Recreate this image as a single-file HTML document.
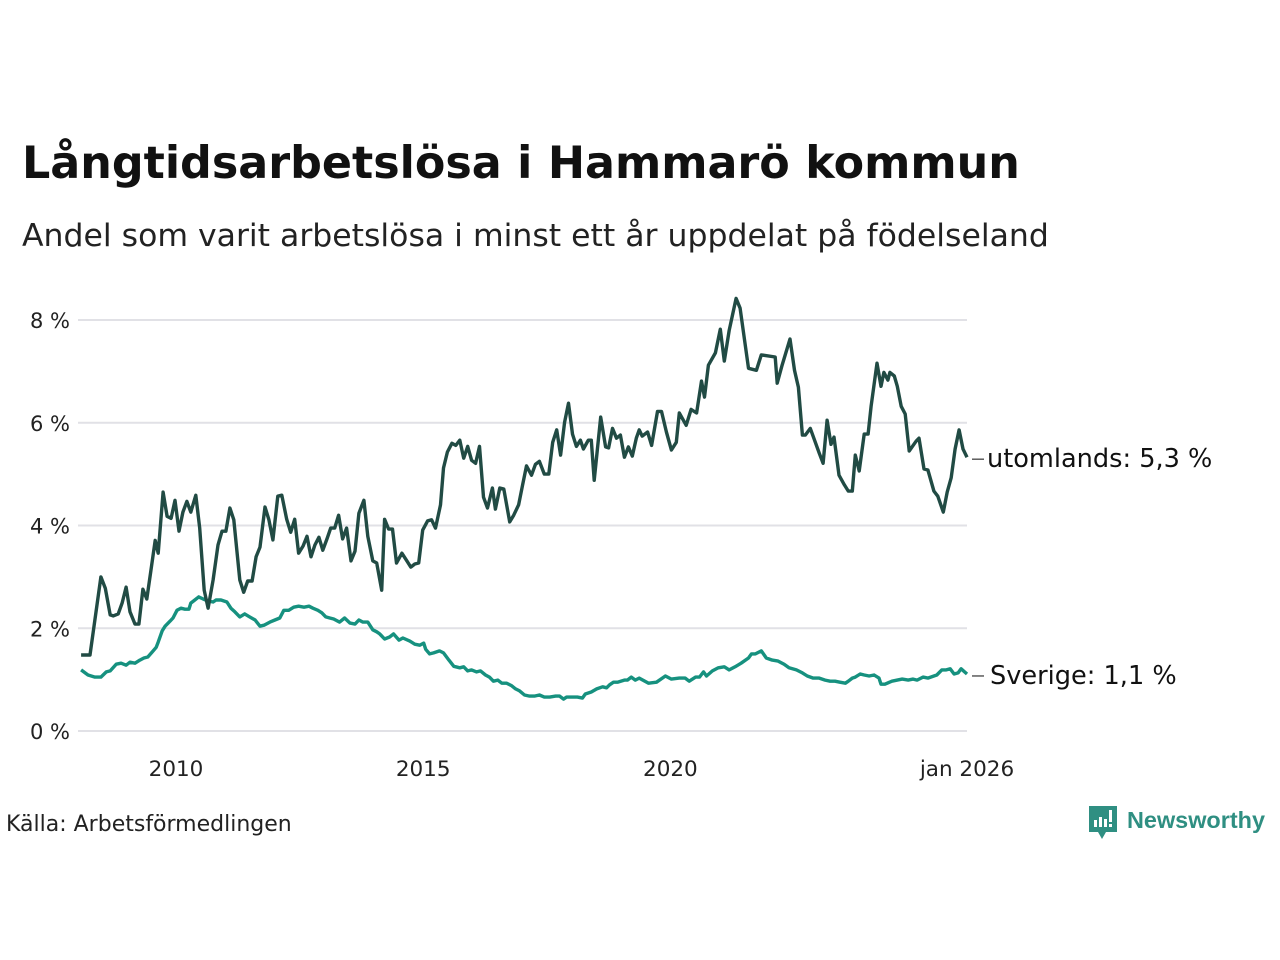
<!DOCTYPE html>
<html><head><meta charset="utf-8">
<style>
body{margin:0;background:#fff;font-family:"Liberation Sans","DejaVu Sans",sans-serif;}
#wrap{position:relative;width:1280px;height:960px;overflow:hidden;}
</style></head>
<body>
<div id="wrap">
<svg id="chart" width="1280" height="960">
<text x="22" y="178" font-size="44.4" font-weight="bold" fill="#111" font-family="DejaVu Sans, sans-serif">Långtidsarbetslösa i Hammarö kommun</text>
<text x="22" y="246" font-size="31.5" fill="#222" font-family="DejaVu Sans, sans-serif">Andel som varit arbetslösa i minst ett år uppdelat på födelseland</text>
<g id="grid"></g><g id="series"></g><g id="labels"></g>
<text x="6" y="831" font-size="22" fill="#222" font-family="DejaVu Sans, sans-serif">Källa: Arbetsförmedlingen</text>
<g>
<path d="M1089 806 h28 v26 h-11 l-4 7 l-4 -7 h-9 z" fill="#2f8f82"/>
<rect x="1094" y="820" width="3" height="7" fill="#fff"/><rect x="1099" y="817" width="3" height="10" fill="#fff"/><rect x="1104" y="819" width="3" height="8" fill="#fff"/><rect x="1109" y="810" width="3" height="12" fill="#fff"/><rect x="1109" y="824" width="3" height="3" fill="#fff"/>
<text x="1127" y="828" font-size="23" font-weight="bold" fill="#2f8f82" font-family="Liberation Sans, sans-serif" textLength="138" lengthAdjust="spacingAndGlyphs">Newsworthy</text>
</g>
</svg>
</div>
<script>
const yTicks=[0,2,4,6,8];
const xTickYears=[2010,2015,2020,2026];
const xTickLabels=["2010","2015","2020","jan 2026"];
const utYears=[2008.08,2008.26,2008.48,2008.57,2008.67,2008.73,2008.83,2008.91,2008.99,2009.07,2009.17,2009.25,2009.33,2009.41,2009.49,2009.58,2009.64,2009.74,2009.82,2009.90,2009.98,2010.06,2010.14,2010.22,2010.30,2010.40,2010.48,2010.57,2010.65,2010.75,2010.85,2010.93,2011.01,2011.09,2011.17,2011.29,2011.37,2011.45,2011.54,2011.62,2011.70,2011.80,2011.88,2011.96,2012.06,2012.14,2012.24,2012.32,2012.40,2012.48,2012.57,2012.65,2012.73,2012.81,2012.89,2012.97,2013.05,2013.13,2013.21,2013.29,2013.37,2013.45,2013.54,2013.62,2013.70,2013.80,2013.88,2013.98,2014.06,2014.16,2014.22,2014.30,2014.38,2014.46,2014.57,2014.67,2014.75,2014.83,2014.91,2014.99,2015.09,2015.17,2015.25,2015.35,2015.41,2015.49,2015.58,2015.66,2015.74,2015.82,2015.90,2015.98,2016.06,2016.14,2016.22,2016.30,2016.40,2016.46,2016.55,2016.63,2016.75,2016.83,2016.93,2017.01,2017.09,2017.19,2017.27,2017.35,2017.45,2017.54,2017.62,2017.70,2017.78,2017.86,2017.94,2018.02,2018.10,2018.18,2018.24,2018.34,2018.40,2018.46,2018.59,2018.69,2018.75,2018.83,2018.91,2018.99,2019.07,2019.15,2019.23,2019.31,2019.37,2019.43,2019.54,2019.62,2019.74,2019.82,2019.92,2020.02,2020.12,2020.18,2020.32,2020.42,2020.53,2020.63,2020.69,2020.77,2020.91,2021.01,2021.09,2021.19,2021.33,2021.41,2021.58,2021.74,2021.84,2022.12,2022.16,2022.26,2022.42,2022.51,2022.59,2022.67,2022.73,2022.83,2022.91,2023.01,2023.09,2023.17,2023.25,2023.31,2023.41,2023.52,2023.60,2023.68,2023.74,2023.82,2023.92,2024.00,2024.06,2024.18,2024.26,2024.32,2024.40,2024.44,2024.53,2024.59,2024.67,2024.75,2024.83,2024.97,2025.03,2025.13,2025.21,2025.33,2025.41,2025.52,2025.60,2025.68,2025.76,2025.84,2025.92,2026.00];
const utValues=[1.48,1.48,3.00,2.78,2.26,2.24,2.28,2.49,2.80,2.32,2.08,2.08,2.76,2.57,3.11,3.71,3.46,4.65,4.18,4.14,4.49,3.89,4.26,4.47,4.26,4.59,3.95,2.74,2.39,2.94,3.62,3.89,3.89,4.34,4.11,2.94,2.70,2.92,2.92,3.39,3.58,4.36,4.11,3.72,4.57,4.59,4.12,3.87,4.12,3.46,3.60,3.79,3.39,3.62,3.77,3.52,3.73,3.95,3.95,4.20,3.74,3.95,3.31,3.50,4.24,4.49,3.79,3.31,3.27,2.74,4.12,3.93,3.93,3.27,3.46,3.31,3.19,3.25,3.27,3.91,4.09,4.11,3.95,4.40,5.12,5.43,5.60,5.56,5.66,5.31,5.54,5.27,5.21,5.54,4.55,4.34,4.73,4.32,4.73,4.71,4.07,4.20,4.40,4.79,5.16,4.98,5.19,5.25,5.00,5.00,5.62,5.86,5.37,6.01,6.38,5.78,5.54,5.66,5.49,5.66,5.66,4.88,6.11,5.53,5.51,5.89,5.70,5.76,5.33,5.53,5.35,5.70,5.86,5.74,5.82,5.56,6.22,6.22,5.82,5.47,5.62,6.19,5.95,6.26,6.19,6.81,6.50,7.12,7.36,7.82,7.20,7.80,8.42,8.23,7.06,7.02,7.32,7.28,6.77,7.12,7.63,7.02,6.69,5.76,5.76,5.89,5.68,5.41,5.21,6.05,5.58,5.72,4.98,4.79,4.67,4.67,5.37,5.06,5.78,5.78,6.32,7.16,6.71,6.98,6.83,6.98,6.91,6.71,6.32,6.17,5.45,5.64,5.70,5.10,5.08,4.67,4.57,4.26,4.65,4.93,5.49,5.86,5.49,5.33];
const svYears=[2008.08,2008.22,2008.36,2008.48,2008.59,2008.67,2008.79,2008.89,2008.99,2009.07,2009.17,2009.27,2009.35,2009.43,2009.52,2009.60,2009.64,2009.72,2009.78,2009.88,2009.94,2010.02,2010.10,2010.18,2010.26,2010.30,2010.38,2010.46,2010.55,2010.65,2010.75,2010.81,2010.91,2011.03,2011.11,2011.19,2011.29,2011.39,2011.49,2011.60,2011.70,2011.78,2011.90,2012.00,2012.10,2012.18,2012.28,2012.38,2012.48,2012.59,2012.69,2012.77,2012.87,2012.95,2013.03,2013.11,2013.19,2013.31,2013.41,2013.52,2013.62,2013.70,2013.78,2013.88,2013.98,2014.06,2014.12,2014.22,2014.32,2014.40,2014.51,2014.59,2014.73,2014.83,2014.93,2015.01,2015.05,2015.13,2015.21,2015.33,2015.41,2015.52,2015.62,2015.74,2015.82,2015.90,2015.98,2016.08,2016.16,2016.26,2016.34,2016.42,2016.51,2016.59,2016.69,2016.79,2016.87,2016.95,2017.05,2017.15,2017.25,2017.35,2017.45,2017.56,2017.68,2017.76,2017.84,2017.90,2018.00,2018.12,2018.22,2018.28,2018.40,2018.51,2018.63,2018.71,2018.77,2018.85,2018.93,2019.07,2019.13,2019.21,2019.29,2019.37,2019.56,2019.72,2019.90,2020.02,2020.18,2020.30,2020.38,2020.51,2020.59,2020.67,2020.73,2020.85,2020.97,2021.09,2021.19,2021.31,2021.43,2021.58,2021.64,2021.72,2021.84,2021.94,2022.06,2022.18,2022.30,2022.40,2022.55,2022.67,2022.77,2022.89,2023.01,2023.13,2023.23,2023.33,2023.43,2023.54,2023.60,2023.68,2023.74,2023.84,2023.92,2024.02,2024.12,2024.22,2024.26,2024.34,2024.48,2024.59,2024.69,2024.81,2024.91,2024.99,2025.11,2025.21,2025.33,2025.39,2025.49,2025.58,2025.66,2025.74,2025.82,2025.88,2026.00];
const svValues=[1.19,1.09,1.05,1.05,1.15,1.17,1.30,1.32,1.28,1.34,1.32,1.38,1.42,1.44,1.54,1.63,1.73,1.95,2.04,2.14,2.20,2.35,2.39,2.37,2.37,2.49,2.55,2.61,2.57,2.53,2.51,2.55,2.55,2.51,2.39,2.32,2.22,2.28,2.22,2.16,2.04,2.06,2.12,2.16,2.20,2.35,2.35,2.41,2.43,2.41,2.43,2.39,2.35,2.30,2.22,2.20,2.18,2.12,2.20,2.10,2.08,2.16,2.12,2.12,1.97,1.93,1.89,1.79,1.83,1.89,1.77,1.81,1.75,1.69,1.67,1.71,1.59,1.50,1.52,1.56,1.52,1.38,1.26,1.23,1.25,1.17,1.19,1.15,1.17,1.09,1.05,0.97,0.99,0.93,0.93,0.88,0.82,0.78,0.70,0.68,0.68,0.70,0.66,0.66,0.68,0.68,0.62,0.66,0.66,0.66,0.64,0.72,0.76,0.82,0.86,0.84,0.90,0.95,0.95,0.99,0.99,1.05,0.99,1.03,0.93,0.95,1.07,1.01,1.03,1.03,0.97,1.05,1.05,1.15,1.07,1.17,1.23,1.25,1.19,1.25,1.32,1.42,1.50,1.50,1.56,1.42,1.38,1.36,1.30,1.23,1.19,1.13,1.07,1.03,1.03,0.99,0.97,0.97,0.95,0.93,0.97,1.03,1.05,1.11,1.09,1.07,1.09,1.03,0.91,0.91,0.97,0.99,1.01,0.99,1.01,0.99,1.05,1.03,1.07,1.09,1.19,1.19,1.21,1.11,1.13,1.21,1.11];
const labelTexts=["utomlands: 5,3 %","Sverige: 1,1 %"];

const NS="http://www.w3.org/2000/svg";
const X0=176,X1=967,Y0=2010,Y1=2026;
const x=v=>X0+(v-Y0)*(X1-X0)/(Y1-Y0);
const y=v=>731-v*(731-320)/8;
function mk(tag,attrs,parent){const e=document.createElementNS(NS,tag);for(const k in attrs)e.setAttribute(k,attrs[k]);parent.appendChild(e);return e;}
const grid=document.getElementById('grid'),series=document.getElementById('series'),labels=document.getElementById('labels');
yTicks.forEach(t=>{
  const l=mk('line',{x1:78,x2:967,y1:y(t),y2:y(t),stroke:'#e1e1e6','stroke-width':2},grid);
  
  
  const tx=mk('text',{x:70,y:y(t)+8,'text-anchor':'end','font-size':21,fill:'#222','font-family':'DejaVu Sans, sans-serif'},grid);
  tx.textContent=t+' %';
  
  
});
xTickYears.forEach((t,i)=>{
  const tx=mk('text',{x:x(t),y:776,'text-anchor':'middle','font-size':21.5,fill:'#222','font-family':'DejaVu Sans, sans-serif'},grid);
  tx.textContent=xTickLabels[i];
  
  
});
function line(xs,vs,color,name){
  const d=xs.map((t,i)=>(i?'L':'M')+x(t).toFixed(1)+' '+y(vs[i]).toFixed(1)).join(' ');
  const p=mk('path',{d:d,fill:'none',stroke:color,'stroke-width':3.4,'stroke-linejoin':'round'},series);
  
  
}
line(svYears,svValues,'#16917f','line-sverige');
line(utYears,utValues,'#214b44','line-utomlands');
[[utValues[utValues.length-1],0],[svValues[svValues.length-1],1]].forEach(([v,i])=>{
  const yy=y(v)+(i?2:2);
  mk('line',{x1:972,x2:984,y1:yy,y2:yy,stroke:'#333','stroke-width':1.2},labels);
  const tx=mk('text',{x:i?990:987,y:yy+8,'font-size':25.6,fill:'#111','font-family':'DejaVu Sans, sans-serif'},labels);
  tx.textContent=labelTexts[i];
  
  
});
</script>
</body></html>
